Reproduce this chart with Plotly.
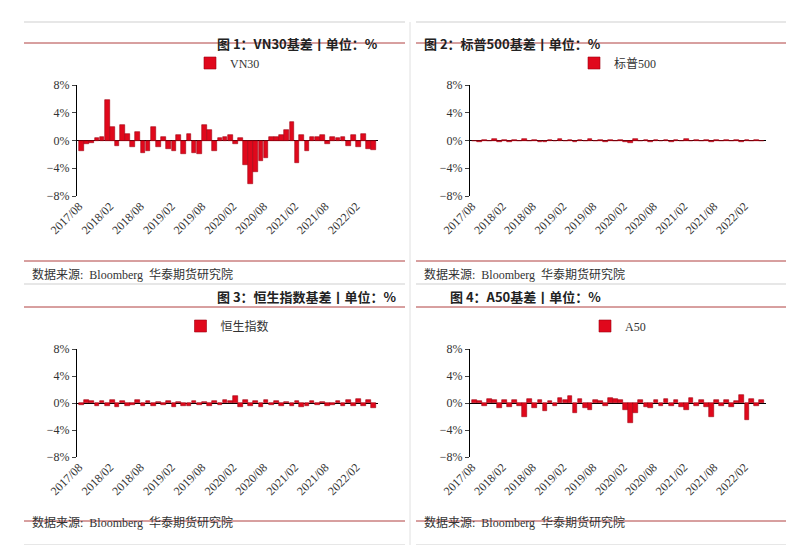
import plotly.graph_objects as go
import pandas as pd

months = pd.date_range("2017-08-01", periods=58, freq="MS") + pd.Timedelta(days=14)
vn30 = [-1.5,-0.5,-0.3,0.3,0.5, 5.8,2.0,-0.8,2.2,1.0,-1.0,1.2,-1.8,-1.5,2.0,-1.0,0.5,
        -1.2,-1.5,0.8,-2.0,1.0,-1.8,-2.0,2.2,1.5,-1.5,0.3,0.5,
        0.8,-0.5,0.3,-3.5,-6.2,-4.5,-3.0,-2.5,0.5,0.5,0.8,1.5,
        2.7,-3.3,0.8,-1.5,0.5,0.5,0.8,-0.5,0.5,0.3,0.5,-0.8,
        0.8,-1.0,1.0,-1.2,-1.4]
spx = [-0.1,-0.15,0.1,-0.1,0.15, -0.2,0.1,-0.15,0.1,-0.1,0.15,-0.1,0.1,-0.15,-0.2,0.1,-0.1,
       0.15,-0.1,0.1,-0.2,0.1,-0.1,0.15,-0.1,0.1,-0.15,0.1,-0.1,
       0.1,-0.2,-0.3,0.15,-0.1,0.1,-0.15,0.1,-0.1,0.1,-0.15,0.1,
       -0.1,0.15,-0.1,0.1,-0.1,0.1,-0.15,0.1,-0.1,0.1,-0.1,0.1,
       -0.15,0.1,-0.1,0.1,-0.1]
hsi = [-0.3,0.4,0.3,-0.4,0.3, -0.5,0.4,-0.6,0.3,-0.5,-0.3,0.4,-0.4,0.3,-0.5,0.2,-0.3,
       0.3,-0.6,0.2,-0.4,-0.5,0.3,-0.3,0.2,-0.4,0.3,-0.3,0.4,
       0.3,1.0,-0.6,0.5,-0.4,0.3,-0.6,0.4,-0.3,0.3,-0.5,0.2,
       -0.4,0.3,-0.6,-0.4,0.3,-0.3,0.2,-0.4,-0.3,0.3,-0.5,0.4,
       -0.4,0.6,-0.5,0.4,-0.8]
a50 = [0.5,0.3,-0.4,0.6,0.5, -0.8,0.5,-0.6,0.4,-0.5,-2.0,0.6,-0.8,0.5,-1.2,0.3,-0.5,
       0.8,0.5,1.0,-1.5,0.6,-0.8,-1.0,0.5,0.3,-0.5,0.8,0.6,
       0.5,-1.0,-3.0,-1.5,0.5,-0.6,-0.8,0.4,-0.5,0.6,-0.4,0.5,
       -0.6,-1.0,0.8,-0.5,0.4,-0.6,-2.0,0.5,-0.4,0.5,-0.6,0.3,
       1.2,-2.5,0.6,-0.5,0.4]

series = [("VN30", vn30), ("标普500", spx), ("恒生指数", hsi), ("A50", a50)]
titles = ["图 1：VN30基差丨单位：%", "图 2：标普500基差丨单位：%",
          "图 3：恒生指数基差丨单位：%", "图 4：A50基差丨单位：%"]

W, H = 794, 545
px = lambda x: x / W
py = lambda y: 1 - y / H

fig = go.Figure()
xdom = [(69, 370), (462, 758)]
ydom = [(77, 188), (341, 449)]
legy = [55, 318]
titley = [24, 288]
foot = [266, 524]
serif = "Liberation Serif, Noto Sans CJK SC"
shapes, annos = [], []
for i, (name, vals) in enumerate(series):
    r, c = divmod(i, 2)
    k = "" if i == 0 else str(i + 1)
    fig.add_trace(go.Bar(x=months, y=vals, name=name, xaxis="x" + k, yaxis="y" + k,
                         marker=dict(color="#E0081C", line=dict(color="#A00010", width=0.6)),
                         legend="legend" + k, showlegend=True))
    fig.update_layout(**{
        "xaxis" + k: dict(domain=[px(xdom[c][0]), px(xdom[c][1])], anchor="y" + k, type="date",
                          range=["2017-07-20", "2022-06-10"], tick0="2017-08-01", dtick="M6",
                          tickformat="%Y/%m", tickangle=-45, showgrid=False, showline=False,
                          ticks="", automargin=False,
                          tickfont=dict(family=serif, size=12, color="#333")),
        "yaxis" + k: dict(domain=[py(ydom[r][1]), py(ydom[r][0])], anchor="x" + k,
                          range=[-8, 8], dtick=4, ticksuffix="%", showgrid=False,
                          showline=True, linecolor="black", linewidth=1, ticks="outside",
                          ticklen=4, zeroline=True, zerolinecolor="black", zerolinewidth=1,
                          automargin=False,
                          tickfont=dict(family=serif, size=12, color="#333")),
        "legend" + k: dict(x=px((xdom[c][0] + xdom[c][1]) / 2), y=py(legy[r]),
                           xanchor="center", yanchor="middle", orientation="h",
                           itemwidth=30, font=dict(family=serif, size=12, color="#333"),
                           bgcolor="rgba(0,0,0,0)"),
    })
    x0 = 16 if c == 0 else 408
    x1 = 397 if c == 0 else 782
    annos.append(dict(text="<b>" + titles[i] + "</b>", x=px((x0 + x1) / 2), y=py(titley[r]),
                      xref="paper", yref="paper", showarrow=False,
                      font=dict(family="Noto Sans CJK SC", size=13, color="#222")))
    annos.append(dict(text="数据来源:  Bloomberg  华泰期货研究院", x=px(x0 + 6), y=py(foot[r]),
                      xref="paper", yref="paper", showarrow=False, xanchor="left",
                      font=dict(family=serif, size=12, color="#333")))

def hline(y, x0, x1, color, w=1):
    shapes.append(dict(type="line", xref="paper", yref="paper", x0=px(x0), x1=px(x1),
                       y0=py(y), y1=py(y), line=dict(color=color, width=w)))
for (a, b) in [(16, 397), (408, 782)]:
    for y in [14, 276]:
        hline(y, a, b, "#cfcfcf")
    for y in [35, 253, 299, 513]:
        hline(y, a, b, "#B04040", 1)
    hline(537, a, b, "#cfcfcf")
shapes.append(dict(type="line", xref="paper", yref="paper", x0=px(402), x1=px(402),
                   y0=py(14), y1=py(537), line=dict(color="#e0e0e0", width=1)))

fig.update_layout(width=W, height=H, margin=dict(l=0, r=0, t=0, b=0, autoexpand=False),
                  bargap=0, plot_bgcolor="white", paper_bgcolor="white",
                  shapes=shapes, annotations=annos)
fig.write_html("out.html")
